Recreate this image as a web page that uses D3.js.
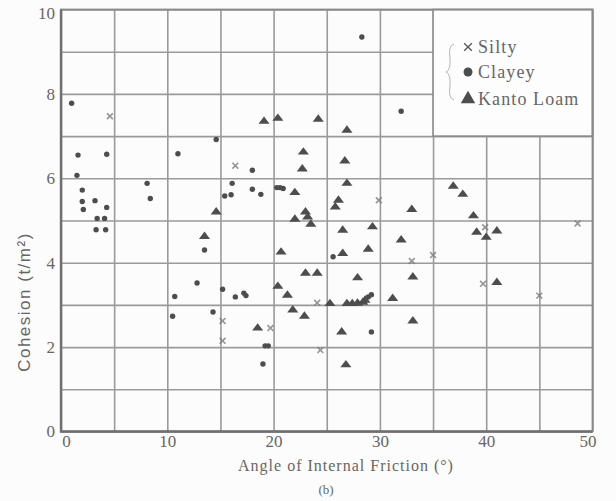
<!DOCTYPE html>
<html>
<head>
<meta charset="utf-8">
<script src="https://cdn.jsdelivr.net/npm/d3@7"></script>
<style>
  body { margin: 0; background: #fcfcfc; }
  svg { display: block; }
  text { font-family: "Liberation Serif", "DejaVu Serif", serif; fill: #666; }
</style>
</head>
<body>
<script>
// angle of internal friction (deg), cohesion (t/m2)
const silty = [
  [4.6, 7.47], [16.4, 6.3], [29.9, 5.48], [35.0, 4.18], [39.9, 4.84], [24.1, 3.05],
  [15.2, 2.62], [15.2, 2.15], [19.7, 2.45], [24.4, 1.93], [39.7, 3.5], [45.0, 3.22],
  [48.6, 4.93], [33.0, 4.04]
]
const clayey = [
  [1.0, 7.78], [1.6, 6.55], [4.3, 6.57], [1.5, 6.07], [2.0, 5.72], [2.0, 5.45], [2.1, 5.26],
  [3.2, 5.47], [4.3, 5.31], [3.4, 5.05], [4.1, 5.05], [3.3, 4.78], [4.2, 4.78], [8.1, 5.88],
  [8.4, 5.52], [11.0, 6.58], [14.6, 6.92], [18.0, 6.19], [16.1, 5.88], [15.4, 5.58], [16.0, 5.61],
  [18.0, 5.74], [18.8, 5.62], [20.3, 5.78], [20.6, 5.78], [20.9, 5.76], [28.3, 9.35], [32.0, 7.59],
  [13.5, 4.3], [12.8, 3.52], [15.2, 3.37], [16.4, 3.19], [17.2, 3.28], [17.4, 3.22], [10.7, 3.2],
  [10.5, 2.73], [14.3, 2.83], [19.0, 1.6], [19.2, 2.03], [19.5, 2.03], [25.6, 4.14], [28.9, 3.19],
  [29.2, 3.24], [29.2, 2.36]
]
const kantoLoam = [
  [19.1, 7.35], [20.4, 7.42], [24.2, 7.4], [26.9, 7.14], [22.8, 6.62], [22.7, 6.22], [26.7, 6.41],
  [26.9, 5.88], [22.0, 5.66], [26.1, 5.48], [25.8, 5.32], [33.0, 5.26], [14.6, 5.2], [22.0, 5.03],
  [23.0, 5.2], [23.2, 5.08], [23.5, 4.91], [13.5, 4.62], [36.9, 5.81], [37.8, 5.62], [38.8, 5.11],
  [39.1, 4.72], [40.0, 4.6], [41.0, 4.75], [26.5, 4.77], [29.3, 4.85], [32.0, 4.54], [28.9, 4.32],
  [26.5, 4.22], [20.7, 4.25], [23.0, 3.75], [24.1, 3.75], [27.9, 3.64], [33.1, 3.66], [20.4, 3.44],
  [21.3, 3.23], [41.0, 3.53], [25.3, 3.03], [26.9, 3.03], [27.4, 3.03], [27.9, 3.04], [28.4, 3.06],
  [28.6, 3.11], [31.2, 3.15], [21.8, 2.88], [22.9, 2.73], [18.5, 2.45], [26.4, 2.36], [33.1, 2.62],
  [26.8, 1.58]
]
const xTicks = [0, 10, 20, 30, 40, 50]
const yTicks = [0, 2, 4, 6, 8, 10]
const legendItems = ['Silty', 'Clayey', 'Kanto Loam']

const width = 616
const height = 501
const plotLeft = 61, plotRight = 592.5, plotTop = 9.5, plotBottom = 431.5
const markColor = '#4d4d4d'

const svg = d3.select('body')
  .append('svg')
  .attr('width', width)
  .attr('height', height)

const x = d3.scaleLinear().domain([0, 50]).range([plotLeft, plotRight])
const y = d3.scaleLinear().domain([0, 10]).range([plotBottom, plotTop])

// Grid
svg.append('g')
  .attr('transform', `translate(0,${plotBottom})`)
  .call(d3.axisBottom(x).tickValues(d3.range(0, 51, 5)).tickSize(-(plotBottom - plotTop)).tickFormat(''))
  .call(g => g.select('.domain').remove())
  .call(g => g.selectAll('line').attr('stroke', '#9a9a9a').attr('stroke-width', 1.6))

svg.append('g')
  .attr('transform', `translate(${plotLeft},0)`)
  .call(d3.axisLeft(y).tickValues(d3.range(0, 11, 1)).tickSize(-(plotRight - plotLeft)).tickFormat(''))
  .call(g => g.select('.domain').remove())
  .call(g => g.selectAll('line').attr('stroke', '#9a9a9a').attr('stroke-width', 1.6))

// Legend box covers the grid
svg.append('rect')
  .attr('x', x(35))
  .attr('y', y(10))
  .attr('width', x(50) - x(35))
  .attr('height', y(7) - y(10))
  .attr('fill', '#fdfdfd')
  .attr('stroke', '#8a8a8a')
  .attr('stroke-width', 1.6)

// Frame
svg.append('rect')
  .attr('x', plotLeft)
  .attr('y', plotTop)
  .attr('width', plotRight - plotLeft)
  .attr('height', plotBottom - plotTop)
  .attr('fill', 'none')
  .attr('stroke', '#8a8a8a')
  .attr('stroke-width', 1.8)

svg.append('path')
  .attr('d', `M${plotLeft},${plotTop}V${plotBottom}H${plotRight}`)
  .attr('fill', 'none')
  .attr('stroke', '#707070')
  .attr('stroke-width', 2.4)

// Tick labels
const xAxis = svg.append('g')
  .attr('transform', `translate(0,${plotBottom})`)
  .call(d3.axisBottom(x).tickValues(xTicks).tickSize(0).tickPadding(3))
xAxis.select('.domain').remove()
xAxis.selectAll('text')
  .style('font-family', '"Liberation Serif", serif')
  .style('font-size', '17px')
  .attr('fill', '#6a6a6a')
  .attr('dx', (d, i) => i === 0 ? 5 : i === 5 ? -5 : 0)

const yAxis = svg.append('g')
  .attr('transform', `translate(${plotLeft},0)`)
  .call(d3.axisLeft(y).tickValues(yTicks).tickSize(0).tickPadding(6))
yAxis.select('.domain').remove()
yAxis.selectAll('text')
  .style('font-family', '"Liberation Serif", serif')
  .style('font-size', '17px')
  .attr('fill', '#6a6a6a')
  .attr('dy', d => d === 10 ? '0.55em' : '0.32em')

// Axis titles
svg.append('text')
  .attr('x', 346)
  .attr('y', 471)
  .attr('text-anchor', 'middle')
  .style('font-size', '16px')
  .style('letter-spacing', '1px')
  .text('Angle of Internal Friction (°)')

svg.append('text')
  .attr('x', 326)
  .attr('y', 494)
  .attr('text-anchor', 'middle')
  .style('font-size', '13px')
  .text('(b)')

svg.append('text')
  .attr('transform', 'translate(30,302) rotate(-90)')
  .attr('text-anchor', 'middle')
  .style('font-family', '"Liberation Sans", sans-serif')
  .style('font-size', '17px')
  .style('letter-spacing', '1.5px')
  .attr('fill', '#8a8a8a')
  .text('Cohesion (t/m²)')

// Marks
const cross = d3.symbol().type(d3.symbolTimes).size(24)
const tri = d3.symbol().type(d3.symbolTriangle).size(44)

svg.append('g')
  .selectAll('path')
  .data(silty)
  .enter()
  .append('path')
  .attr('d', cross)
  .attr('transform', d => `translate(${x(d[0])},${y(d[1])})`)
  .attr('fill', 'none')
  .attr('stroke', '#7a7a7a')
  .attr('stroke-width', 1.6)
  .attr('opacity', 0.8)

svg.append('g')
  .selectAll('circle')
  .data(clayey)
  .enter()
  .append('circle')
  .attr('cx', d => x(d[0]))
  .attr('cy', d => y(d[1]))
  .attr('r', 2.7)
  .attr('fill', markColor)

svg.append('g')
  .selectAll('path')
  .data(kantoLoam)
  .enter()
  .append('path')
  .attr('d', tri)
  .attr('transform', d => `translate(${x(d[0])},${y(d[1])}) scale(1.1,0.85)`)
  .attr('fill', markColor)

// Legend
const legend = svg.append('g').attr('transform', `translate(468,0)`)
const legendY = [47, 72, 99]

legend.append('path')
  .attr('d', 'M-14,44 Q-20,46 -18,58 Q-17,70 -22,72 Q-17,74 -18,86 Q-20,98 -14,100')
  .attr('fill', 'none')
  .attr('stroke', '#b5b5b5')
  .attr('stroke-width', 1)

legend.selectAll('text')
  .data(legendItems)
  .enter()
  .append('text')
  .attr('x', 10)
  .attr('y', (d, i) => legendY[i])
  .attr('dy', '0.35em')
  .style('font-size', '18px')
  .style('letter-spacing', '1.1px')
  .attr('fill', '#5a5a5a')
  .text(d => d)

legend.append('path')
  .attr('d', d3.symbol().type(d3.symbolTimes).size(40))
  .attr('transform', `translate(0,${legendY[0]})`)
  .attr('fill', 'none')
  .attr('stroke', '#5a5a5a')
  .attr('stroke-width', 1.4)
legend.append('circle')
  .attr('cx', 0)
  .attr('cy', legendY[1])
  .attr('r', 4.5)
  .attr('fill', markColor)
legend.append('path')
  .attr('d', d3.symbol().type(d3.symbolTriangle).size(90))
  .attr('transform', `translate(0,${legendY[2]})`)
  .attr('fill', markColor)
</script>
</body>
</html>
